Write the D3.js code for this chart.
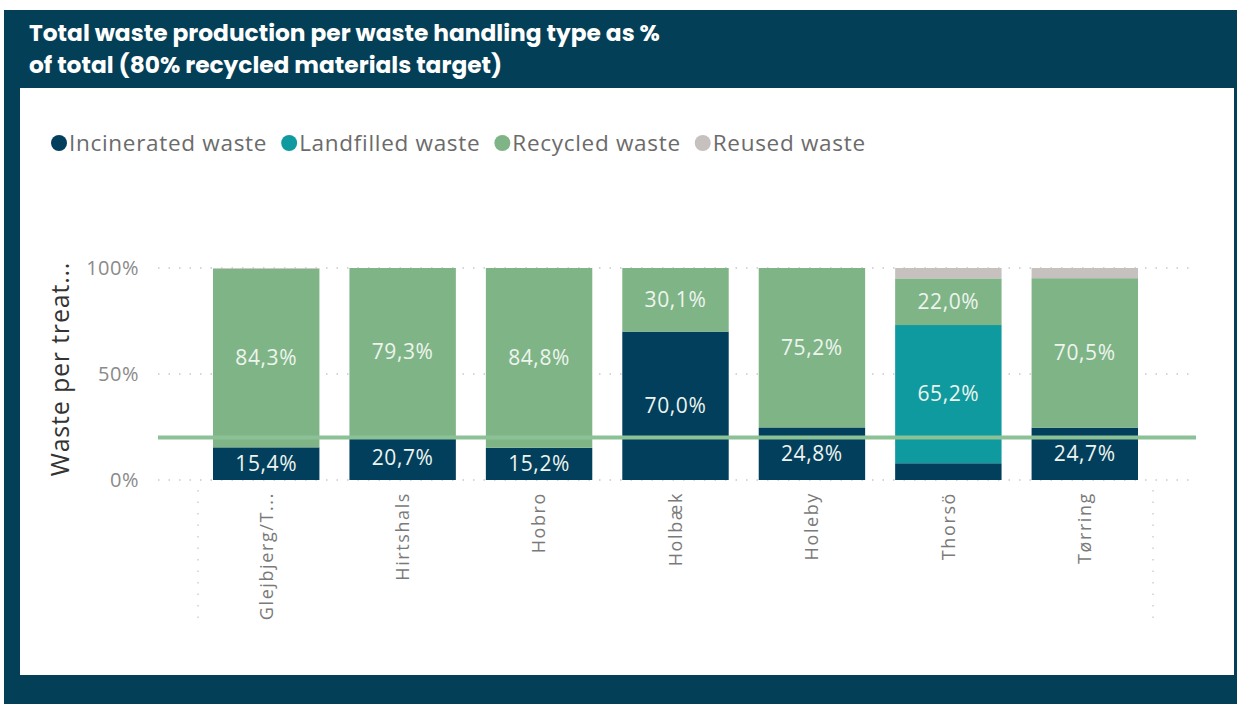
<!DOCTYPE html>
<html lang="en">
<head>
    <meta charset="UTF-8">
    <title>Total waste production per waste handling type</title>
    <script src="https://d3js.org/d3.v7.min.js"></script>
    <style>
        body {
            margin: 0;
            background: #fff;
            font-family: "Open Sans", Arial, sans-serif;
        }
        svg {
            display: block;
        }
    </style>
</head>
<body>
    <svg width="1237" height="704" id="svg"></svg>

    <script>
        // chart data
        const sites = ["Glejbjerg/T...", "Hirtshals", "Hobro", "Holbæk", "Holeby", "Thorsö", "Tørring"];
        const incinerated = [15.4, 20.7, 15.2, 70.0, 24.8, 7.9, 24.7];
        const landfilled = [0, 0, 0, 0, 0, 65.2, 0];
        const recycled = [84.3, 79.3, 84.8, 30.1, 75.2, 22.0, 70.5];
        const reused = [0.3, 0, 0, 0, 0, 4.9, 4.8];
        const seriesNames = ["Incinerated waste", "Landfilled waste", "Recycled waste", "Reused waste"];
        const yTicks = [0, 50, 100];
        const target = 20;

        const colors = ["#023f5c", "#0f9a9f", "#7fb487", "#c6c1be"];
        const svg = d3.select("#svg");

        // dark frame and white panel
        svg.append("rect").attr("x", 4).attr("y", 10).attr("width", 1233).attr("height", 694).attr("fill", "#043f58");
        svg.append("rect").attr("x", 20).attr("y", 88).attr("width", 1214).attr("height", 587).attr("fill", "#fff");

        // title
        const title = svg.append("text")
            .attr("fill", "#fff")
            .attr("font-family", "Poppins, Inter, sans-serif")
            .attr("font-weight", 700)
            .attr("font-size", 23.3);
        title.append("tspan").attr("x", 29).attr("y", 41).text("Total waste production per waste handling type as %");
        title.append("tspan").attr("x", 29).attr("y", 73).text("of total (80% recycled materials target)");

        // legend
        const legend = svg.append("g").attr("transform", "translate(59,143)");
        let lx = 0;
        seriesNames.forEach((name, i) => {
            const g = legend.append("g").attr("transform", `translate(${lx},0)`);
            g.append("circle").attr("r", 8).attr("fill", colors[i]);
            const t = g.append("text")
                .attr("x", 10)
                .attr("dy", "0.35em")
                .attr("fill", "#6b6b6b")
                .attr("font-size", 22.5)
                .attr("letter-spacing", "0.7px")
                .text(name);
            lx += 10 + t.node().getComputedTextLength() + 22;
        });

        // scales
        const x = d3.scaleBand().domain(sites).range([198, 1153]).paddingInner(0.22).paddingOuter(0.11);
        const y = d3.scaleLinear().domain([0, 100]).range([480, 268]);

        // gridlines
        svg.append("g")
            .selectAll("line")
            .data(yTicks)
            .join("line")
            .attr("x1", 158).attr("x2", 1192)
            .attr("y1", d => y(d)).attr("y2", d => y(d))
            .attr("stroke", "#c8c8c8")
            .attr("stroke-width", 1.5)
            .attr("stroke-dasharray", "1.5,9");

        // vertical boundary dots under the axis
        svg.append("g")
            .selectAll("line")
            .data([x.range()[0], x.range()[1]])
            .join("line")
            .attr("x1", d => d).attr("x2", d => d)
            .attr("y1", 490).attr("y2", 624)
            .attr("stroke", "#cfcfcf")
            .attr("stroke-width", 1.5)
            .attr("stroke-dasharray", "1.5,10");

        // y axis
        const yAxis = d3.axisLeft(y).tickValues(yTicks).tickFormat(d => d + "%").tickSize(0).tickPadding(0);
        const ya = svg.append("g").attr("transform", "translate(139,0)").call(yAxis);
        ya.select(".domain").remove();
        ya.selectAll("text")
            .attr("fill", "#8a8a8a")
            .attr("font-size", 20)
            .attr("letter-spacing", "0.5px")
            .attr("font-family", "'Open Sans', sans-serif");

        svg.append("text")
            .attr("transform", "rotate(-90)")
            .attr("x", -369)
            .attr("y", 69)
            .attr("text-anchor", "middle")
            .attr("fill", "#333")
            .attr("font-size", 25)
            .attr("letter-spacing", "0.8px")
            .text("Waste per treat...");

        // stacked bars
        const rows = sites.map((s, i) => ({
            site: s,
            incinerated: incinerated[i],
            landfilled: landfilled[i],
            recycled: recycled[i],
            reused: reused[i]
        }));
        const keys = ["incinerated", "landfilled", "recycled", "reused"];
        const stack = d3.stack().keys(keys)(rows);

        const layers = svg.append("g")
            .selectAll("g")
            .data(stack)
            .join("g")
            .attr("fill", (d, i) => colors[i]);

        layers.selectAll("rect")
            .data(d => d)
            .join("rect")
            .attr("x", d => x(d.data.site))
            .attr("width", x.bandwidth())
            .attr("y", d => y(Math.min(d[1], 100)))
            .attr("height", d => y(d[0]) - y(Math.min(d[1], 100)));

        // x axis labels
        const xAxis = d3.axisBottom(x).tickSize(0).tickPadding(0);
        const xa = svg.append("g").attr("transform", "translate(0,492)").call(xAxis);
        xa.select(".domain").remove();
        xa.selectAll("text")
            .attr("transform", "rotate(-90)")
            .attr("text-anchor", "end")
            .attr("x", 0)
            .attr("y", 0)
            .attr("dy", "0.35em")
            .attr("fill", "#7a7a7a")
            .attr("font-size", 18)
            .attr("letter-spacing", "1.6px")
            .attr("font-family", "'Open Sans', sans-serif");

        // target line
        svg.append("line")
            .attr("x1", 158).attr("x2", 1196)
            .attr("y1", y(target)).attr("y2", y(target))
            .attr("stroke", "#8cc195")
            .attr("stroke-width", 4);

        // data labels
        const fmt = v => d3.format(".1f")(v).replace(".", ",") + "%";
        stack.forEach(layer => {
            if (layer.key === "reused") return;
            svg.append("g")
                .selectAll("text")
                .data(layer.filter(d => d[1] - d[0] >= 12))
                .join("text")
                .attr("x", d => x(d.data.site) + x.bandwidth() / 2)
                .attr("y", d => y((d[0] + d[1]) / 2))
                .attr("dy", "0.35em")
                .attr("text-anchor", "middle")
                .attr("fill", "#eef4ee")
                .attr("font-size", 21)
                .attr("letter-spacing", "0.6px")
                .text(d => fmt(d[1] - d[0]));
        });
    </script>
</body>
</html>
